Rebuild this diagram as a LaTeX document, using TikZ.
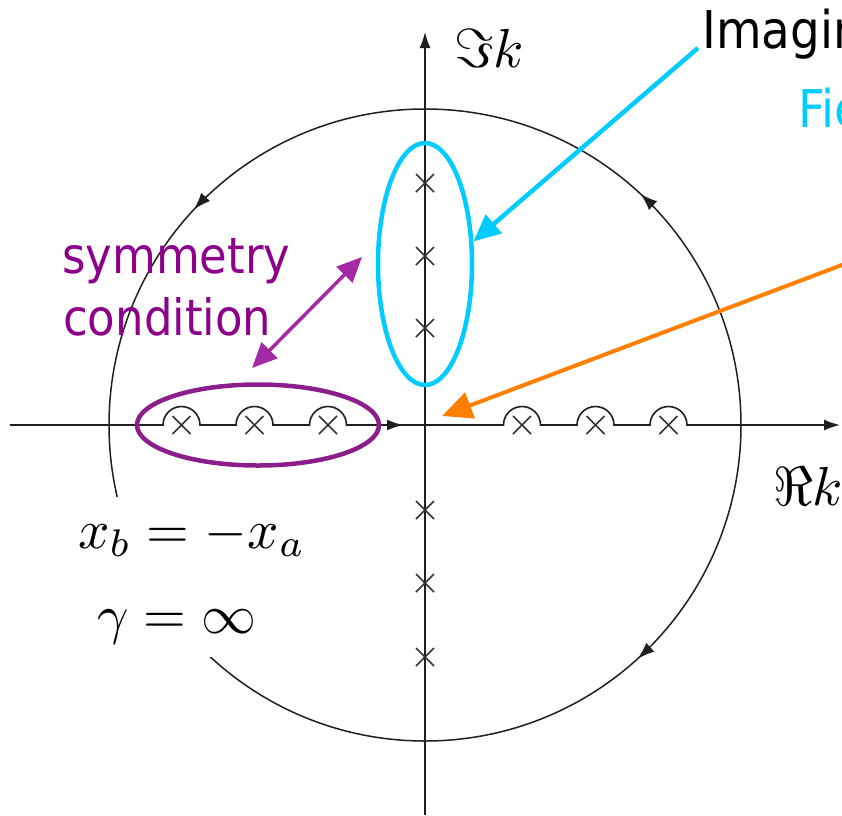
\documentclass[tikz,border=0pt]{standalone}
\usepackage{fontspec}
\usetikzlibrary{arrows.meta,decorations.markings,shapes.geometric}
\newfontfamily\tah[FakeStretch=0.9]{DejaVu Sans}
\definecolor{cyanline}{RGB}{0,204,255}
\definecolor{orangeline}{RGB}{255,128,0}
\definecolor{purpletext}{RGB}{140,0,140}
\definecolor{purpleell}{RGB}{140,30,140}
\definecolor{purplearrow}{RGB}{165,40,165}
\tikzset{
  ax/.style={line width=1.6pt, black!88},
  contour/.style={line width=1.5pt, black!88},
  xmark/.style={line width=1.5pt, black!80},
  ctip/.style={-{Latex[length=16pt,width=11pt]}},
  lbl/.style={anchor=base west, inner sep=0pt},
  sanslbl/.style={lbl, font=\tah\fontsize{50}{60}\selectfont},
  mathlbl/.style={lbl, font=\fontsize{10}{12}\selectfont, scale=5.5},
  hlell/.style={ellipse, line width=4.5pt, inner sep=0pt},
}
\begin{document}
\begin{tikzpicture}[x=1pt,y=1pt]
\useasboundingbox (-425,-390) rectangle (417,425);
\clip (-425,-390) rectangle (417,425);
% contour circle
\draw[contour, postaction={decorate}, decoration={markings,
   mark=at position 0.261 with {\arrow{Latex[length=17pt,width=12pt]}},
   mark=at position 0.761 with {\arrow{Latex[length=17pt,width=12pt]}}}]
  (316,0) arc[start angle=0,end angle=180,radius=316];
\draw[contour, postaction={decorate}, decoration={markings,
   mark=at position 0.265 with {\arrow{Latex[length=17pt,width=12pt]}},
   mark=at position 0.761 with {\arrow{Latex[length=17pt,width=12pt]}}}]
  (316,0) arc[start angle=0,end angle=-180,radius=316];
% real axis with indentations
\draw[ax, ctip] (-415,0) -- (-262,0) arc[start angle=180,end angle=0,radius=18.5]
  -- (-189,0) arc[start angle=180,end angle=0,radius=18.5]
  -- (-115.5,0) arc[start angle=180,end angle=0,radius=18.5]
  -- (78.5,0) arc[start angle=180,end angle=0,radius=18.5]
  -- (152,0) arc[start angle=180,end angle=0,radius=18.5]
  -- (225,0) arc[start angle=180,end angle=0,radius=18.5]
  -- (415,0);
\draw[ax, ctip] (-45,0) -- (-22,0);
% imaginary axis
\draw[ax, ctip] (0,-390) -- (0,393);
% poles
\foreach \x/\y in {0/97,0/169,0/242,0/-85,0/-158,0/-232,-97/0,-170.5/0,-243.5/0,97/0,170.5/0,243.5/0}
  \draw[xmark] (\x-9,\y-9) -- (\x+9,\y+9) (\x-9,\y+9) -- (\x+9,\y-9);
% highlight ellipses
\node[hlell, draw=cyanline, minimum width=94pt, minimum height=242pt] (poles) at (0,161) {};
\node[hlell, draw=purpleell, minimum width=242pt, minimum height=81pt] (realpoles) at (-167,0) {};
% white box with equations
\fill[white] (-405,-72) rectangle (-103,-232);
\node[mathlbl] (eqa) at (-348,-123) {$x_b = -x_a$};
\node[mathlbl] (eqb) at (-329,-208) {$\gamma = \infty$};
% axis labels
\node[mathlbl] (imk) at (28,357) {$\Im k$};
\node[mathlbl] (rek) at (347,-80) {$\Re k$};
% text labels
\node[sanslbl, text=purpletext] (sym) at (-363,152) {symmetry};
\node[sanslbl, text=purpletext] (cond) at (-362,90) {condition};
\node[sanslbl, text=black, font=\tah\fontsize{52}{60}\selectfont] (imag) at (277,377) {Imaginary};
\node[sanslbl, text=cyanline, font=\tah\fontsize{52}{60}\selectfont] (field) at (373,298) {Field};
% connectors
\coordinate (ostart) at (440,168.7);
\coordinate (otip) at (17,9);
\coordinate (sa) at (-173,57);
\coordinate (sb) at (-63,168);
\draw[cyanline, line width=4.5pt, -{Triangle[length=27pt,width=24pt]}] ([xshift=-4pt]imag.base west) -- (poles.25);
\draw[orangeline, line width=4pt, -{Triangle[length=30pt,width=27pt]}] (ostart) -- (otip);
\draw[purplearrow, line width=3.5pt, {Triangle[length=25pt,width=22pt]}-{Triangle[length=25pt,width=22pt]}] (sa) -- (sb);
\end{tikzpicture}
\end{document}
